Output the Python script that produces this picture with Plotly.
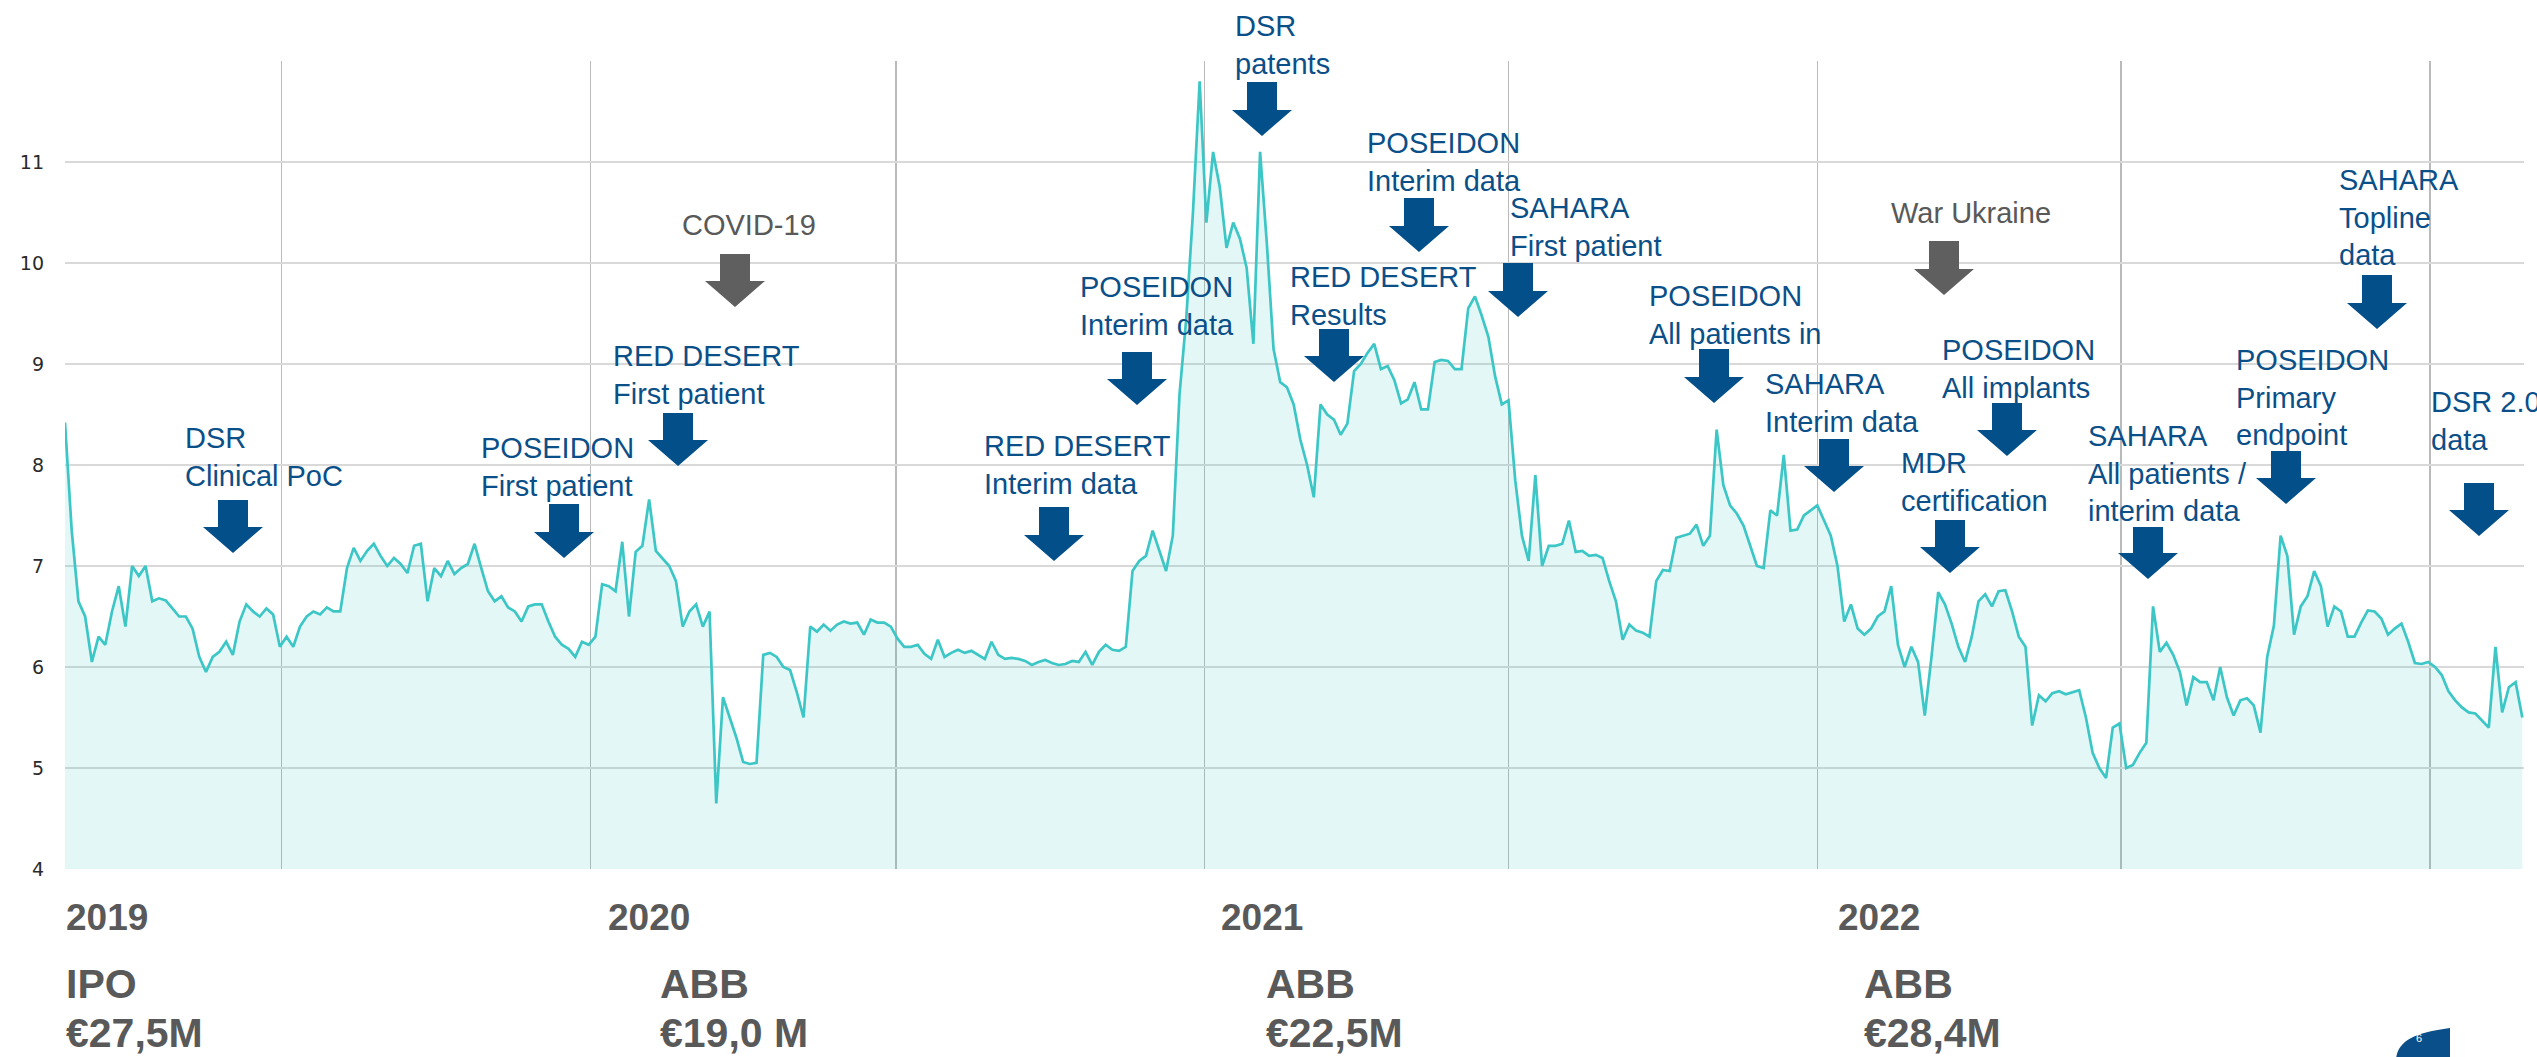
import plotly.graph_objects as go
import pandas as pd

# ---------------- data (share price, EUR) sampled every 4 days from 22 Feb 2019 ----------------
price_2019_h1 = [8.42, 7.35, 6.65, 6.5, 6.05, 6.3, 6.22, 6.55, 6.8, 6.4, 7.0, 6.9, 7.0, 6.65, 6.68,
                 6.66, 6.58, 6.5, 6.5, 6.38, 6.1, 5.95, 6.1, 6.15, 6.25, 6.12, 6.45, 6.62, 6.55, 6.5,
                 6.58, 6.52, 6.2]
price_2019_h2 = [6.3, 6.2, 6.4, 6.5, 6.55, 6.52, 6.59, 6.55, 6.55, 6.98, 7.18, 7.05, 7.15, 7.22, 7.1,
                 7.0, 7.08, 7.02, 6.93, 7.2, 7.22, 6.65, 6.98, 6.9, 7.05, 6.92, 6.98, 7.02, 7.22, 6.98,
                 6.75, 6.65, 6.7, 6.59, 6.55, 6.45, 6.6, 6.62, 6.62, 6.45, 6.3, 6.22, 6.18, 6.1, 6.25,
                 6.22]
price_2020_h1 = [6.3, 6.82, 6.8, 6.75, 7.24, 6.5, 7.14, 7.2, 7.66, 7.15, 7.08, 7.0, 6.85, 6.4, 6.55,
                 6.62, 6.4, 6.55, 4.65, 5.7, 5.5, 5.3, 5.06, 5.04, 5.05, 6.12, 6.14, 6.1, 6.0, 5.97,
                 5.75, 5.5, 6.4, 6.35, 6.42, 6.36, 6.42, 6.45, 6.43, 6.44, 6.32, 6.47, 6.44, 6.44, 6.4]
price_2020_h2 = [6.28, 6.2, 6.2, 6.22, 6.13, 6.08, 6.27, 6.1, 6.14, 6.17, 6.14, 6.16, 6.12, 6.08, 6.25,
                 6.12, 6.08, 6.09, 6.08, 6.06, 6.02, 6.05, 6.07, 6.04, 6.02, 6.03, 6.06, 6.05, 6.15,
                 6.02, 6.15, 6.22, 6.17, 6.16, 6.2, 6.95, 7.05, 7.1, 7.35, 7.15, 6.95, 7.3, 8.7, 9.45,
                 10.5, 11.8, 10.4]
price_2021_h1 = [11.1, 10.75, 10.15, 10.4, 10.24, 9.95, 9.2, 11.1, 10.2, 9.15, 8.82, 8.77, 8.6, 8.25,
                 8.0, 7.68, 8.6, 8.5, 8.45, 8.3, 8.41, 8.93, 9.0, 9.11, 9.2, 8.95, 8.98, 8.84, 8.61,
                 8.65, 8.82, 8.55, 8.55, 9.02, 9.04, 9.03, 8.95, 8.95, 9.55, 9.67, 9.48, 9.27, 8.88,
                 8.6, 8.64]
price_2021_h2 = [7.85, 7.3, 7.05, 7.9, 7.0, 7.2, 7.2, 7.22, 7.45, 7.14, 7.15, 7.1, 7.11, 7.08, 6.85,
                 6.65, 6.27, 6.42, 6.36, 6.34, 6.3, 6.85, 6.96, 6.95, 7.28, 7.3, 7.32, 7.41, 7.2, 7.3,
                 8.35, 7.8, 7.6, 7.52, 7.4, 7.2, 7.0, 6.98, 7.55, 7.5, 8.1, 7.35, 7.36, 7.5, 7.55, 7.6]
price_2022_h1 = [7.45, 7.3, 7.0, 6.45, 6.62, 6.38, 6.32, 6.38, 6.5, 6.55, 6.8, 6.22, 6.0, 6.2, 6.05,
                 5.52, 6.1, 6.74, 6.62, 6.43, 6.2, 6.05, 6.3, 6.65, 6.72, 6.6, 6.75, 6.76, 6.55, 6.3,
                 6.2, 5.42, 5.72, 5.66, 5.74, 5.76, 5.73, 5.75, 5.77, 5.5, 5.15, 5.0, 4.9, 5.4, 5.44]
price_2022_h2 = [5.0, 5.03, 5.15, 5.25, 6.6, 6.15, 6.24, 6.12, 5.95, 5.62, 5.9, 5.85, 5.85, 5.67, 6.0,
                 5.7, 5.52, 5.67, 5.69, 5.62, 5.35, 6.1, 6.41, 7.3, 7.1, 6.32, 6.6, 6.7, 6.95, 6.8,
                 6.4, 6.6, 6.55, 6.3, 6.3, 6.44, 6.56, 6.55, 6.48, 6.32, 6.38, 6.43, 6.25, 6.04, 6.03,
                 6.05, 6.0, 5.92, 5.76, 5.67, 5.6, 5.55, 5.54, 5.47, 5.4, 6.2, 5.55, 5.8, 5.85, 5.5]

prices = (price_2019_h1 + price_2019_h2 + price_2020_h1 + price_2020_h2 +
          price_2021_h1 + price_2021_h2 + price_2022_h1 + price_2022_h2)
dates = pd.date_range("2019-02-22", periods=len(prices), freq="4D")

y_ticks = [4, 5, 6, 7, 8, 9, 10, 11, 12]
y_tick_labels = ["4", "5", "6", "7", "8", "9", "10", "11", ""]

year_labels = ["2019", "2020", "2021", "2022"]
raise_titles = ["IPO", "ABB", "ABB", "ABB"]
raise_amounts = ["€27,5M", "€19,0 M", "€22,5M", "€28,4M"]

event_texts = [
    "DSR<br>Clinical PoC", "POSEIDON<br>First patient", "RED DESERT<br>First patient", "COVID-19",
    "RED DESERT<br>Interim data", "POSEIDON<br>Interim data", "DSR<br>patents",
    "RED DESERT<br>Results", "POSEIDON<br>Interim data", "SAHARA<br>First patient",
    "POSEIDON<br>All patients in", "SAHARA<br>Interim data", "War Ukraine", "MDR<br>certification",
    "POSEIDON<br>All implants", "SAHARA<br>All patients /<br>interim data",
    "POSEIDON<br>Primary<br>endpoint", "SAHARA<br>Topline<br>data", "DSR 2.0<br>data",
]
event_is_external = [False, False, False, True, False, False, False, False, False, False,
                     False, False, True, False, False, False, False, False, False]

# ---------------- layout geometry (pixels of the 2537x1057 page) ----------------
W, H = 2537, 1057
L, R, T, B = 65, 2524, 61, 869

def pxx(x):
    return (x - L) / (R - L)

def pxy(y):
    return (B - y) / (B - T)

# text left, cap-top of first line
text_pos = [(184, 427), (480, 437), (612, 345), (681, 214), (983, 435), (1079, 276), (1234, 15),
            (1289, 266), (1366, 132), (1509, 197), (1648, 285), (1764, 373), (1890, 202),
            (1900, 452), (1941, 339), (2087, 425), (2235, 349), (2338, 169), (2430, 391)]
# arrow centre x, top y, tip y
arrow_pos = [(233, 500, 553), (564, 504, 558), (678, 413, 466), (735, 254, 307), (1054, 507, 561),
             (1137, 352, 405), (1262, 82, 136), (1334, 329, 382), (1419, 198, 252),
             (1518, 263, 317), (1714, 349, 403), (1834, 439, 492), (1944, 241, 295),
             (1950, 520, 573), (2007, 403, 456), (2148, 527, 579), (2286, 451, 504),
             (2377, 275, 329), (2479, 483, 536)]

BLUE_TXT = "#0b4f88"
BLUE_ARR = "#034f89"
GREY_TXT = "#595959"
GREY_ARR = "#5f5f5f"
FONT = "Liberation Sans, Arial, sans-serif"

fig = go.Figure()
fig.add_trace(go.Scatter(
    x=dates, y=prices, mode="lines",
    line=dict(color="#3cc6c6", width=2.7),
    fill="tozeroy", fillcolor="rgba(64,196,196,0.14)",
    hoverinfo="skip", showlegend=False,
))

shapes = []
annotations = []

def label(text, x, captop, color, size, bold=False):
    top = captop - (0.19 * size + 1)
    annotations.append(dict(
        xref="paper", yref="paper", x=pxx(x - 1), y=pxy(top),
        xanchor="left", yanchor="top", text=("<b>%s</b>" % text) if bold else text,
        showarrow=False, align="left",
        font=dict(family=FONT, size=size, color=color),
    ))

def arrow(cx, top, tip, color):
    hs = tip - 26
    pts = [(cx - 15, top), (cx + 15, top), (cx + 15, hs), (cx + 30, hs), (cx, tip),
           (cx - 30, hs), (cx - 15, hs)]
    path = "M " + " L ".join("%.5f,%.5f" % (pxx(x), pxy(y)) for x, y in pts) + " Z"
    shapes.append(dict(type="path", xref="paper", yref="paper", path=path,
                       fillcolor=color, line=dict(width=0), layer="above"))

# white text box left over on the slide behind "POSEIDON All implants"
shapes.append(dict(type="rect", xref="paper", yref="paper", x0=pxx(2014), x1=pxx(2121),
                   y0=pxy(384), y1=pxy(326), fillcolor="white", line=dict(width=0),
                   layer="between"))

for txt, ext, (tx, ty), (ax, at, ab) in zip(event_texts, event_is_external, text_pos, arrow_pos):
    label(txt, tx, ty, GREY_TXT if ext else BLUE_TXT, 29)
    arrow(ax, at, ab, GREY_ARR if ext else BLUE_ARR)

year_x = [65, 607, 1220, 1837]
raise_x = [65, 659, 1265, 1863]
for yl, x in zip(year_labels, year_x):
    label(yl, x, 903, GREY_TXT, 37, bold=True)
for rt, ra, x in zip(raise_titles, raise_amounts, raise_x):
    label(rt, x, 968, GREY_TXT, 41, bold=True)
    label(ra, x, 1017, GREY_TXT, 41, bold=True)

# small page marker bottom right
shapes.append(dict(type="path", xref="paper", yref="paper",
                   path="M %.5f,%.5f C %.5f,%.5f %.5f,%.5f %.5f,%.5f L %.5f,%.5f Z" % (
                       pxx(2396), pxy(1060), pxx(2397), pxy(1042), pxx(2412), pxy(1033),
                       pxx(2450), pxy(1028), pxx(2450), pxy(1060)),
                   fillcolor="#0a4f8a", line=dict(width=0), layer="above"))
annotations.append(dict(xref="paper", yref="paper", x=pxx(2424), y=pxy(1046), text="6",
                        showarrow=False, font=dict(family=FONT, size=11, color="white")))

fig.update_layout(
    width=W, height=H, autosize=False,
    margin=dict(l=L, r=W - R, t=T, b=H - B, pad=0),
    paper_bgcolor="white", plot_bgcolor="white",
    showlegend=False,
    shapes=shapes, annotations=annotations,
    xaxis=dict(type="date", range=["2019-02-22", "2023-02-26"], dtick="M6", tick0="2019-01-01",
               showticklabels=False, showgrid=True, gridcolor="rgba(0,0,0,0.27)", gridwidth=1.5,
               zeroline=False, showline=False, ticks=""),
    yaxis=dict(range=[4, 12], tickvals=y_ticks, ticktext=y_tick_labels, showgrid=True,
               gridcolor="#d9d9d9", gridwidth=2, zeroline=False, showline=False, ticks="",
               ticklabelstandoff=20,
               tickfont=dict(family="DejaVu Sans, Verdana, sans-serif", size=19, color="#2a2a2a")),
)

fig.write_html("out.html", config={"displayModeBar": False, "staticPlot": True},
               post_script="document.body.style.margin='0';document.body.style.overflow='hidden';")
